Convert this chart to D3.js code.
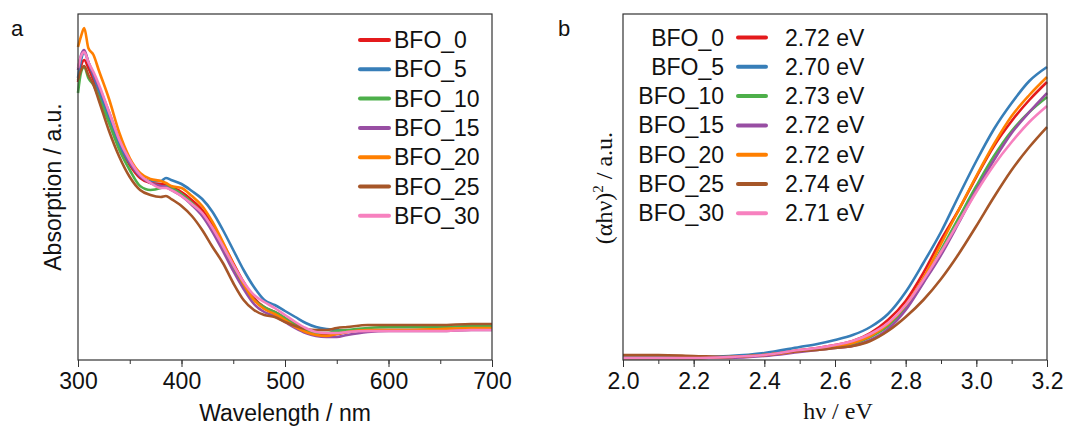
<!DOCTYPE html>
<html>
<head>
<meta charset="utf-8">
<script src="https://cdn.jsdelivr.net/npm/d3@7"></script>
<style>
  body { margin: 0; background: #fff; }
  .container { width: 1069px; height: 426px; }
  text { font-family: Arial, "Liberation Sans", sans-serif; fill: #111; }
  .serif { font-family: "Times New Roman", "Liberation Serif", serif; }
</style>
</head>
<body>
<div class="container"></div>
<script>
/********** the Data **********/
let names = ["BFO_0", "BFO_5", "BFO_10", "BFO_15", "BFO_20", "BFO_25", "BFO_30"];
let colors = ["#e41a1c", "#377eb8", "#4daf4a", "#984ea3", "#ff7f00", "#a65628", "#f781bf"];
let gaps = ["2.72 eV", "2.70 eV", "2.73 eV", "2.72 eV", "2.72 eV", "2.74 eV", "2.71 eV"];

// panel a : absorption spectra (a.u.)
let wavelength = [300, 303, 306, 310, 315, 320, 330, 340, 350, 360, 370, 380, 385, 390, 400, 410, 420, 430, 440,
                  450, 460, 470, 480, 490, 500, 510, 520, 530, 540, 550, 560, 580, 600, 620, 650, 680, 700];
let absBFO0  = [278,294,300,292,280,268,240,214,195,182,177,176,175,173,168,160,150,135,117,97,78,62,53,48,42,36,30,26,25,26,28,30,30,30,30,31,31];
let absBFO5  = [282,300,308,298,284,270,242,215,197,184,179,179,182,180,176,169,161,148,130,110,90,73,60,55,49,43,37,33,31,30,29,30,30,30,30,31,31];
let absBFO10 = [267,288,293,282,275,263,237,210,190,174,170,172,174,172,166,157,146,131,112,92,74,60,53,48,42,35,30,27,27,29,30,32,33,33,33,34,34];
let absBFO15 = [290,305,310,298,286,274,248,220,198,184,177,174,173,170,164,155,144,128,109,89,71,56,48,44,38,32,27,24,23,23,25,28,29,29,29,30,30];
let absBFO20 = [313,324,332,312,305,290,261,227,202,187,181,179,177,174,172,164,154,138,118,96,76,60,51,46,40,33,28,25,24,26,28,30,30,30,31,32,32];
let absBFO25 = [280,290,294,285,275,260,229,203,183,170,165,163,164,161,154,144,130,113,97,77,60,50,45,43,38,34,31,30,30,32,33,35,35,35,35,36,36];
let absBFO30 = [292,304,308,298,288,276,248,220,200,185,177,172,172,170,164,156,147,132,114,95,78,65,58,52,45,38,32,28,27,27,28,29,29,29,29,30,30];

// panel b : Tauc plot (a.u.)
let energy = [2.0, 2.1, 2.2, 2.3, 2.4, 2.5, 2.55, 2.6, 2.65, 2.7, 2.75, 2.8, 2.85, 2.9, 2.95, 3.0, 3.05, 3.1, 3.15, 3.2];
let taucBFO0  = [2,2,2,3,5,10,12,15,19,27,40,59,87,120,150,183,214,239,260,278];
let taucBFO5  = [3,3,3,4,7,13,16,20,25,33,46,68,97,128,164,199,231,257,279,293];
let taucBFO10 = [2,2,2,3,5,9,11,13,16,23,34,52,78,110,142,174,204,229,248,263];
let taucBFO15 = [2,2,2,2,4,8,10,12,14,20,31,50,77,105,137,170,200,227,248,267];
let taucBFO20 = [2,2,2,3,5,9,11,13,17,24,36,55,82,116,150,184,216,244,265,283];
let taucBFO25 = [5,5,4,3,5,9,10,12,14,19,29,43,60,81,106,134,163,190,213,233];
let taucBFO30 = [2,2,2,3,5,10,12,15,19,26,37,55,80,108,138,168,195,218,238,254];

let absSeries = [absBFO0, absBFO5, absBFO10, absBFO15, absBFO20, absBFO25, absBFO30];
let taucSeries = [taucBFO0, taucBFO5, taucBFO10, taucBFO15, taucBFO20, taucBFO25, taucBFO30];


/********** drawChart **********/
let svg = d3.select(".container")
  .append("svg")
    .attr("width", 1069)
    .attr("height", 426);

let plotTop = 14, plotBottom = 360;
let fontSize = "23px";

function drawPanel(opt) {
  let g = svg.append("g");

  let xScale = d3.scaleLinear().domain(opt.xDomain).range([opt.left, opt.right]);
  let yScale = d3.scaleLinear().domain([0, 346]).range([plotBottom, plotTop]);

  // minor ticks
  g.append("g")
    .attr("transform", `translate(0, ${plotBottom})`)
    .call(d3.axisBottom(xScale).tickValues(opt.minor).tickSize(4).tickFormat(""))
    .call(a => a.select(".domain").remove());

  // major ticks + labels
  g.append("g")
    .attr("class", "x-axis")
    .attr("transform", `translate(0, ${plotBottom})`)
    .call(d3.axisBottom(xScale).tickValues(opt.major).tickSize(7).tickPadding(6).tickFormat(opt.fmt))
    .call(a => a.select(".domain").remove())
    .call(a => a.selectAll("text").style("font-size", fontSize).attr("fill", "#111"));

  g.selectAll(".tick line").attr("stroke", "#333");

  // curves
  let line = d3.line()
    .x((d, i) => xScale(opt.x[i]))
    .y(d => yScale(d))
    .curve(d3.curveMonotoneX);

  g.selectAll("path.curve")
    .data(opt.series)
    .join("path")
      .attr("class", "curve")
      .attr("fill", "none")
      .attr("stroke", (d, i) => colors[i])
      .attr("stroke-width", 2.6)
      .attr("stroke-linejoin", "round")
      .attr("d", line);

  // frame
  g.append("rect")
    .attr("x", opt.left)
    .attr("y", plotTop)
    .attr("width", opt.right - opt.left)
    .attr("height", plotBottom - plotTop)
    .attr("fill", "none")
    .attr("stroke", "#333")
    .attr("stroke-width", 1.2);

  return g;
}

/***** panel a *****/
let ga = drawPanel({
  left: 78, right: 492,
  xDomain: [300, 700],
  major: [300, 400, 500, 600, 700],
  minor: d3.range(300, 701, 50),
  fmt: d3.format("d"),
  x: wavelength,
  series: absSeries
});

ga.append("text").attr("x", 11).attr("y", 36).style("font-size", "22px").text("a");

ga.append("text")
  .attr("x", 285).attr("y", 421)
  .attr("text-anchor", "middle")
  .style("font-size", fontSize)
  .text("Wavelength / nm");

ga.append("text")
  .attr("transform", "translate(61, 187) rotate(-90)")
  .attr("text-anchor", "middle")
  .style("font-size", fontSize)
  .text("Absorption / a.u.");

names.forEach((n, i) => {
  let y = 40 + i * 29.3;
  ga.append("line")
    .attr("x1", 360).attr("x2", 389).attr("y1", y).attr("y2", y)
    .attr("stroke", colors[i]).attr("stroke-width", 4).attr("stroke-linecap", "round");
  ga.append("text")
    .attr("x", 394).attr("y", y + 8)
    .style("font-size", fontSize)
    .text(n);
});

/***** panel b *****/
let gb = drawPanel({
  left: 623, right: 1047,
  xDomain: [2.0, 3.2],
  major: [2.0, 2.2, 2.4, 2.6, 2.8, 3.0, 3.2],
  minor: d3.range(0, 13).map(k => 2.0 + k * 0.1),
  fmt: d3.format(".1f"),
  x: energy,
  series: taucSeries
});

gb.append("text").attr("x", 558).attr("y", 36).style("font-size", "22px").text("b");

gb.append("text")
  .attr("class", "serif")
  .attr("x", 838).attr("y", 419)
  .attr("text-anchor", "middle")
  .style("font-size", "24px")
  .text("hν / eV");

let ylab = gb.append("text")
  .attr("class", "serif")
  .attr("transform", "translate(612, 188) rotate(-90)")
  .attr("text-anchor", "middle")
  .style("font-size", "24px");
ylab.append("tspan").text("(αhν)");
ylab.append("tspan").attr("dy", -9).style("font-size", "15px").text("2");
ylab.append("tspan").attr("dy", 9).text(" / a.u.");

names.forEach((n, i) => {
  let y = 37.5 + i * 29.3;
  gb.append("text")
    .attr("x", 724).attr("y", y + 8)
    .attr("text-anchor", "end")
    .style("font-size", fontSize)
    .text(n);
  gb.append("line")
    .attr("x1", 738).attr("x2", 766).attr("y1", y).attr("y2", y)
    .attr("stroke", colors[i]).attr("stroke-width", 4).attr("stroke-linecap", "round");
  gb.append("text")
    .attr("x", 785).attr("y", y + 8)
    .style("font-size", fontSize)
    .text(gaps[i]);
});
</script>
</body>
</html>
